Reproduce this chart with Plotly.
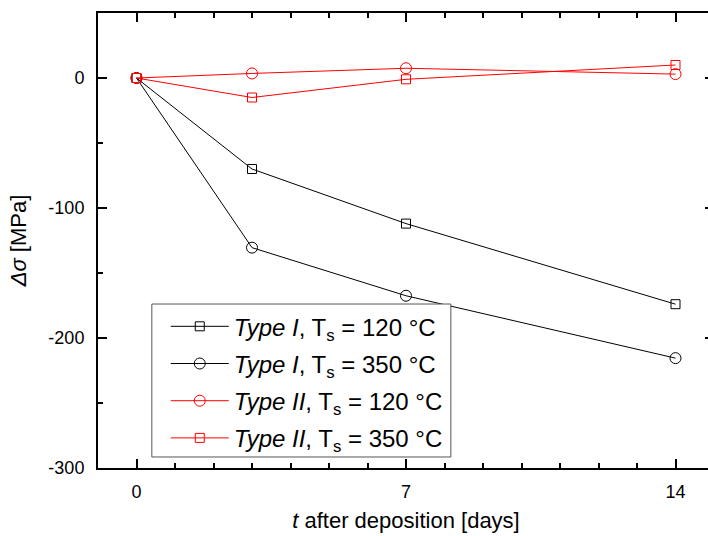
import plotly.graph_objects as go

days = [0, 3, 7, 14]
type1_120 = [0, -70, -112, -174]
type1_350 = [0, -130.5, -167.5, -215.5]
type2_120 = [0, 3.5, 7.5, 3]
type2_350 = [0, -15, -1, 10]

x_ticks = [0, 7, 14]
y_ticks = [-300, -200, -100, 0]
y_ticklabels = ["-300", "-200", "-100", "0"]

names = [
    "<i>Type I</i>, T<sub>s</sub> = 120 °C",
    "<i>Type I</i>, T<sub>s</sub> = 350 °C",
    "<i>Type II</i>, T<sub>s</sub> = 120 °C",
    "<i>Type II</i>, T<sub>s</sub> = 350 °C",
]
series = [type1_120, type1_350, type2_120, type2_350]
colors = ["#000000", "#000000", "#ff0000", "#ff0000"]
symbols = ["square-open", "circle-open", "circle-open", "square-open"]
sizes = [9, 11, 11, 9]

fig = go.Figure()
for i, (n, s, c, sym, sz) in enumerate(zip(names, series, colors, symbols, sizes)):
    fig.add_trace(go.Scatter(
        x=days, y=s, mode="lines+markers", name=n, legendgroup=f"g{i}",
        line=dict(color=c, width=1),
        marker=dict(symbol=sym, size=sz, color=c, line=dict(color=c, width=1)),
    ))

# legend frame (white box drawn over the data, legend placed inside it)
fig.add_shape(type="rect", xref="paper", yref="paper",
              x0=0.0874, x1=0.5728, y0=0.0242, y1=0.3604,
              line=dict(color="#555555", width=1), fillcolor="white", layer="above")

font = "Liberation Sans, Arial, sans-serif"
fig.update_layout(
    width=716, height=536,
    margin=dict(l=98, r=0, t=13, b=68),
    paper_bgcolor="white", plot_bgcolor="white",
    font=dict(family=font, size=18, color="black"),
    showlegend=True,
    legend=dict(
        x=0.110, y=0.36, xanchor="left", yanchor="top",
        borderwidth=0, bgcolor="rgba(0,0,0,0)",
        font=dict(size=24, family=font),
        itemwidth=58, tracegroupgap=3,
    ),
    xaxis=dict(
        range=[-1, 15], tickvals=x_ticks, ticks="inside", ticklen=9,
        tickwidth=2, tickcolor="black", ticklabelstandoff=6,
        minor=dict(dtick=1, tick0=0, ticks="inside", ticklen=5, tickwidth=1.5, tickcolor="black"),
        showline=True, linecolor="black", linewidth=2, mirror="ticks",
        showgrid=False, zeroline=False,
        tickfont=dict(size=18),
        title=dict(text="<i>t</i> after deposition [days]", font=dict(size=22), standoff=12),
    ),
    yaxis=dict(
        range=[-300, 50], tickvals=y_ticks, ticktext=y_ticklabels, ticks="inside", ticklen=9,
        tickwidth=2, tickcolor="black", ticklabelstandoff=8,
        minor=dict(dtick=50, tick0=0, ticks="inside", ticklen=5, tickwidth=1.5, tickcolor="black"),
        showline=True, linecolor="black", linewidth=2, mirror="ticks",
        showgrid=False, zeroline=False,
        tickfont=dict(size=18),
        title=dict(text="<i>Δσ</i> [MPa]", font=dict(size=22), standoff=16),
    ),
)

fig.write_html("out.html", config={"displayModeBar": False},
               post_script="document.body.style.margin='0';document.body.style.padding='0';"
                           "document.body.style.overflow='hidden';"
                           "document.documentElement.style.overflow='hidden';")
